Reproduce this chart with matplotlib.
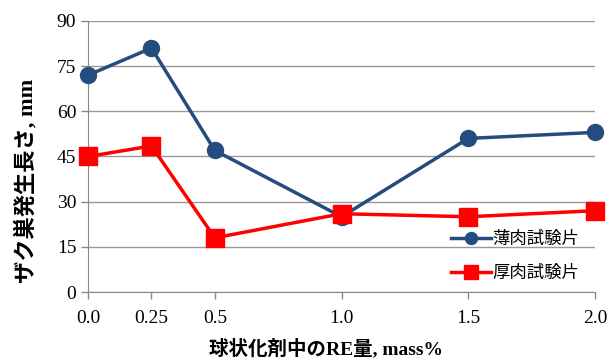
import matplotlib
matplotlib.use("Agg")
import matplotlib.pyplot as plt

plt.rcParams['font.family'] = ['Liberation Serif', 'Noto Sans CJK JP']

re_amount = [0.0, 0.25, 0.5, 1.0, 1.5, 2.0]
tick_labels = ['0.0', '0.25', '0.5', '1.0', '1.5', '2.0']
thin = [72, 81, 47, 25, 51, 53]
thick = [45, 48.5, 18, 26, 25, 27]
y_ticks = [0, 15, 30, 45, 60, 75, 90]

fig = plt.figure(figsize=(6.16, 3.61), dpi=100)
ax = fig.add_axes([0.143, 0.191, 0.823, 0.751])

ax.plot(re_amount, thin, color='#244C7E', lw=2.5, marker='o', ms=11.5,
        label='薄肉試験片', clip_on=False, zorder=3)
ax.plot(re_amount, thick, color='#FF0000', lw=2.5, marker='s', ms=12.5,
        label='厚肉試験片', clip_on=False, zorder=3)

ax.set_xlim(0, 2.0)
ax.set_ylim(0, 90)
ax.set_xticks(re_amount)
ax.set_xticklabels(tick_labels)
ax.set_yticks(y_ticks)
ax.tick_params(labelsize=14, color='#888888', length=5, width=1)
ax.tick_params(axis='x', pad=8)
ax.grid(axis='y', color='#999999', lw=1)
ax.set_axisbelow(True)
for s in ['top', 'right']:
    ax.spines[s].set_visible(False)
for s in ['left', 'bottom']:
    ax.spines[s].set_color('#888888')

ax.set_ylabel('ザク巣発生長さ, mm', fontsize=16, fontweight='bold')
ax.yaxis.set_label_coords(-0.10, 0.41)
ax.set_xlabel('球状化剤中のRE量, mass%', fontsize=14, fontweight='bold')
ax.xaxis.set_label_coords(0.47, -0.17)

ax.legend(loc='lower right', bbox_to_anchor=(1.0, -0.02), frameon=False,
          handlelength=2.3, handletextpad=0.1, labelspacing=0.9,
          markerscale=0.75, prop={'family': ['Noto Sans CJK JP'], 'size': 12.5})

fig.savefig('out.png', dpi=100)
